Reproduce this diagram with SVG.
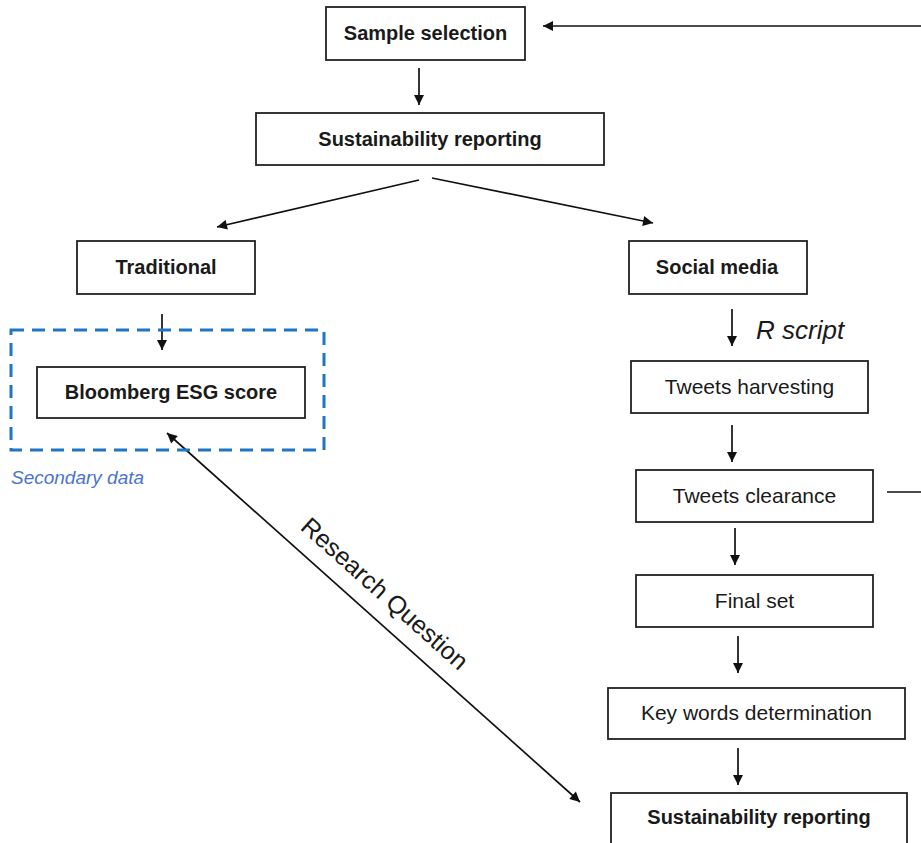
<svg xmlns="http://www.w3.org/2000/svg" width="921" height="843" viewBox="0 0 921 843">
<style>
  .box { fill: #fff; stroke: #222; stroke-width: 1.8; }
  .b { font-family: "Liberation Sans", Arial, sans-serif; font-weight: bold; font-size: 20px; fill: #1a1a1a; text-anchor: middle; }
  .r { font-family: "Liberation Sans", Arial, sans-serif; font-size: 21px; fill: #1a1a1a; text-anchor: middle; }
  .conn line { stroke: #111; stroke-width: 1.7; }
  .arr { marker-end: url(#ah); }
</style>
<defs>
  <marker id="ah" viewBox="0 0 10 10" refX="10" refY="5" markerWidth="12" markerHeight="10" markerUnits="userSpaceOnUse" orient="auto-start-reverse">
    <path d="M0,0 L10,5 L0,10 z" fill="#111"/>
  </marker>
</defs>
<rect width="921" height="843" fill="#fff"/>

<g id="connectors" class="conn">
  <line class="arr" x1="921" y1="26" x2="543" y2="26"/>
  <line class="arr" x1="419" y1="68" x2="419" y2="105"/>
  <line class="arr" x1="419" y1="180" x2="217" y2="227"/>
  <line class="arr" x1="432" y1="178" x2="653" y2="223"/>
  <line class="arr" x1="162" y1="314" x2="162" y2="350"/>
  <line class="arr" x1="732" y1="309" x2="732" y2="346"/>
  <line class="arr" x1="732" y1="425" x2="732" y2="462"/>
  <line class="arr" x1="735" y1="528" x2="735" y2="565"/>
  <line class="arr" x1="738" y1="636" x2="738" y2="673"/>
  <line class="arr" x1="738" y1="748" x2="738" y2="785"/>
  <line x1="887" y1="492" x2="921" y2="492"/>
  <line x1="167" y1="433" x2="580" y2="802" marker-start="url(#ah)" marker-end="url(#ah)"/>
  <text x="756" y="339" font-family="Liberation Sans, Arial, sans-serif" font-style="italic" font-size="26" fill="#1a1a1a">R script</text>
  <text transform="translate(379,600) rotate(41.8)" x="0" y="0" font-family="Liberation Sans, Arial, sans-serif" font-size="25" fill="#1a1a1a" text-anchor="middle">Research Question</text>
</g>

<g id="secondary-data">
  <rect x="11" y="330" width="313" height="120" fill="none" stroke="#1f74c4" stroke-width="3" stroke-dasharray="13 8"/>
  <text x="11" y="484" font-family="Liberation Sans, Arial, sans-serif" font-style="italic" font-size="19" fill="#4a74c9">Secondary data</text>
</g>

<g id="sample-selection">
  <rect class="box" x="326" y="7" width="199" height="53"/>
  <text class="b" x="425.5" y="40">Sample selection</text>
</g>
<g id="sustainability-reporting">
  <rect class="box" x="256" y="113" width="348" height="52"/>
  <text class="b" x="430" y="146">Sustainability reporting</text>
</g>
<g id="traditional">
  <rect class="box" x="77" y="241" width="178" height="53"/>
  <text class="b" x="166" y="274">Traditional</text>
</g>
<g id="social-media">
  <rect class="box" x="629" y="241" width="178" height="53"/>
  <text class="b" x="717" y="274">Social media</text>
</g>
<g id="bloomberg">
  <rect class="box" x="37" y="367" width="268" height="51"/>
  <text class="b" x="171" y="399">Bloomberg ESG score</text>
</g>
<g id="tweets-harvesting">
  <rect class="box" x="631" y="361" width="237" height="52"/>
  <text class="r" x="749.5" y="394">Tweets harvesting</text>
</g>
<g id="tweets-clearance">
  <rect class="box" x="636" y="470" width="237" height="52"/>
  <text class="r" x="754.5" y="503">Tweets clearance</text>
</g>
<g id="final-set">
  <rect class="box" x="636" y="575" width="237" height="52"/>
  <text class="r" x="754.5" y="608">Final set</text>
</g>
<g id="key-words">
  <rect class="box" x="608" y="688" width="297" height="51"/>
  <text class="r" x="756.5" y="720">Key words determination</text>
</g>
<g id="sustainability-reporting-2">
  <rect class="box" x="611" y="793" width="296" height="70"/>
  <text class="b" x="759" y="824">Sustainability reporting</text>
</g>
</svg>
